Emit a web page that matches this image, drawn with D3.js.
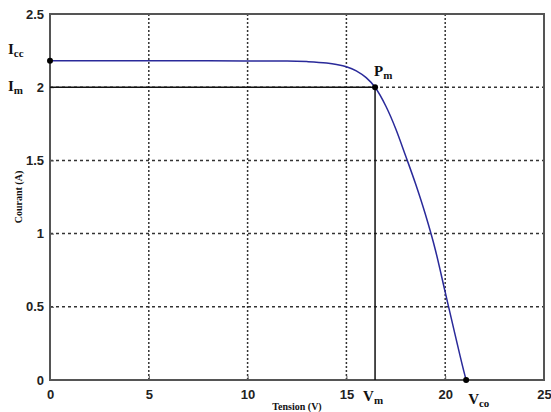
<!DOCTYPE html>
<html>
<head>
<meta charset="utf-8">
<script src="https://cdn.jsdelivr.net/npm/d3@7"></script>
<style>
  body { margin: 0; background: #fff; }
  .tick text { font-family: "Liberation Sans", Arial, sans-serif; font-weight: bold; font-size: 13px; fill: #222; }
  .lbl { font-family: "Liberation Serif", "Times New Roman", serif; font-weight: bold; fill: #111; }
</style>
</head>
<body>
<div id="chart"></div>
<script>
// I-V curve of the PV module
var tension = [0, 4, 8, 12, 13, 14, 14.5, 15, 15.5, 16, 16.45, 17, 17.5, 18, 18.5, 19, 19.5, 20, 20.5, 21, 21.06];
var courant = [2.18, 2.18, 2.18, 2.179, 2.175, 2.165, 2.155, 2.14, 2.112, 2.065, 2.0, 1.87, 1.715, 1.53, 1.34, 1.13, 0.89, 0.6, 0.31, 0.03, 0];
var xTicks = [0, 5, 10, 15, 20, 25];
var yTicks = [0, 0.5, 1, 1.5, 2, 2.5];
var Icc = 2.18, Im = 2.0, Vm = 16.45, Vco = 21.06;

var margin = { top: 14, right: 7, bottom: 32, left: 50 },
    outerWidth = 551,
    outerHeight = 412,
    width = outerWidth - margin.left - margin.right,
    height = outerHeight - margin.top - margin.bottom;

var x = d3.scaleLinear().domain([0, 25]).range([0, width]);
var y = d3.scaleLinear().domain([0, 2.5]).range([height, 0]);

var svg = d3.select("#chart").append("svg")
    .attr("width", outerWidth)
    .attr("height", outerHeight)
    .append("g")
    .attr("transform", "translate(" + margin.left + "," + margin.top + ")");

// dotted grid
svg.selectAll(".vgrid")
    .data(xTicks.slice(1, -1))
    .enter().append("line")
    .attr("x1", function(d) { return x(d); })
    .attr("x2", function(d) { return x(d); })
    .attr("y1", 0).attr("y2", height)
    .style("stroke", "#333").style("stroke-width", 1.5)
    .style("stroke-dasharray", "2,2");

svg.selectAll(".hgrid")
    .data(yTicks.slice(1, -1))
    .enter().append("line")
    .attr("y1", function(d) { return y(d); })
    .attr("y2", function(d) { return y(d); })
    .attr("x1", 0).attr("x2", width)
    .style("stroke", "#333").style("stroke-width", 1.5)
    .style("stroke-dasharray", "3,3");

// axes
var xAxis = d3.axisBottom(x).tickValues(xTicks).tickSize(-4).tickPadding(10)
    .tickFormat(function(d) { return d; });
var yAxis = d3.axisLeft(y).tickValues(yTicks).tickSize(-4).tickPadding(6)
    .tickFormat(function(d) { return d; });

svg.append("g")
    .attr("class", "x axis")
    .attr("transform", "translate(0," + height + ")")
    .call(xAxis);

svg.append("g")
    .attr("class", "y axis")
    .call(yAxis);

svg.selectAll(".domain").remove();
svg.selectAll(".tick line").style("stroke", "#555");

// frame
svg.append("rect")
    .attr("width", width)
    .attr("height", height)
    .style("fill", "none")
    .style("stroke", "#555")
    .style("stroke-width", 2);

// Im / Vm lines
svg.append("line")
    .attr("x1", 0).attr("x2", x(Vm))
    .attr("y1", y(Im)).attr("y2", y(Im))
    .style("stroke", "#111").style("stroke-width", 1.5);

svg.append("line")
    .attr("x1", x(Vm)).attr("x2", x(Vm))
    .attr("y1", y(Im)).attr("y2", y(0))
    .style("stroke", "#111").style("stroke-width", 1.5);

// curve
var line = d3.line()
    .x(function(d, i) { return x(tension[i]); })
    .y(function(d, i) { return y(courant[i]); })
    .curve(d3.curveMonotoneX);

svg.append("path")
    .datum(tension)
    .attr("d", line)
    .style("fill", "none")
    .style("stroke", "#2a2a9a")
    .style("stroke-width", 1.5);

// points
svg.selectAll(".pt")
    .data([[0, Icc], [Vm, Im], [Vco, 0]])
    .enter().append("circle")
    .attr("cx", function(d) { return x(d[0]); })
    .attr("cy", function(d) { return y(d[1]); })
    .attr("r", 3)
    .style("fill", "#000");

// annotations
function sublabel(px, py, main, sub) {
    var t = svg.append("text").attr("class", "lbl")
        .attr("x", px).attr("y", py)
        .style("font-size", "15px");
    t.append("tspan").text(main);
    t.append("tspan").attr("dy", 3).style("font-size", "11px").text(sub);
}
sublabel(-42, y(Icc) - 7, "I", "cc");
sublabel(-42, y(Im) + 4, "I", "m");
sublabel(x(Vm) - 1, y(Im) - 11, "P", "m");
sublabel(x(Vm) - 12, height + 21, "V", "m");
sublabel(x(Vco) + 2, height + 24, "V", "co");

// axis titles
svg.append("text").attr("class", "lbl")
    .attr("x", width / 2)
    .attr("y", height + 30)
    .style("text-anchor", "middle")
    .style("font-size", "10px")
    .text("Tension (V)");

svg.append("text").attr("class", "lbl")
    .attr("transform", "rotate(-90)")
    .attr("x", -height / 2)
    .attr("y", -28)
    .style("text-anchor", "middle")
    .style("font-size", "10px")
    .text("Courant (A)");
</script>
</body>
</html>
